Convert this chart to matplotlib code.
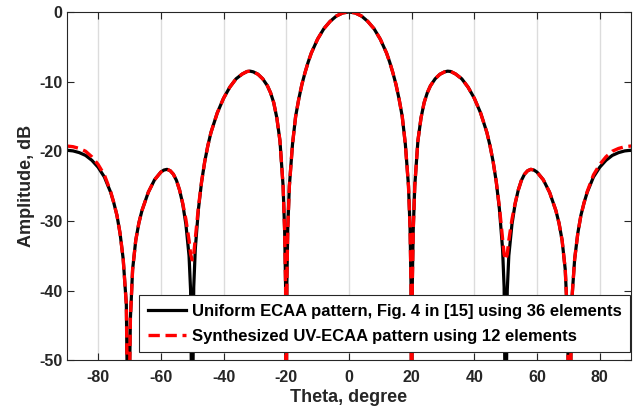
import numpy as np
import matplotlib
matplotlib.use('Agg')
import matplotlib.pyplot as plt

theta = [-90, -88, -86, -84, -82, -80, -78, -76, -75, -74, -73, -72, -71, -70.4, -69.7,
         -69, -68, -67, -66, -64, -62, -60, -59, -58, -57, -56, -55, -54, -53, -52,
         -51, -50.5, -50, -49.5, -49, -48, -47, -46, -45, -44, -42, -40, -38, -36,
         -34, -32.5, -31.5, -30.5, -29, -27.5, -26, -25, -24, -23, -22, -21, -20.5,
         -20.2, -20, -19.8, -19.5, -19, -18, -17, -16, -15, -14, -13, -12, -10, -8,
         -6, -4, -2, 0, 2, 4, 6, 8, 10, 12, 13, 14, 15, 16, 17, 18, 19, 19.5, 19.8,
         20, 20.2, 20.5, 21, 22, 23, 24, 25, 26, 27.5, 29, 30.5, 31.5, 32.5, 34, 36,
         38, 40, 42, 44, 45, 46, 47, 48, 49, 49.5, 50, 50.5, 51, 52, 53, 54, 55, 56,
         57, 58, 59, 60, 62, 64, 66, 67, 68, 69, 69.7, 70.4, 71, 72, 73, 74, 75, 76,
         78, 80, 82, 84, 86, 88, 90]

# Uniform ECAA pattern, 36 elements (dB)
uniform_db = [-19.85, -19.95, -20.2, -20.6, -21.3, -22.3, -23.7, -25.9, -27.4, -29.2,
              -31.8, -35.5, -42, -65, -44, -37.0, -32.8, -30.3, -28.5, -25.9, -24.1,
              -23.0, -22.7, -22.6, -22.8, -23.3, -24.2, -25.6, -27.6, -30.5, -35,
              -40, -65, -39.5, -34.0, -28.3, -24.4, -21.5, -19.2, -17.3, -14.5, -12.4,
              -10.8, -9.6, -8.9, -8.55, -8.5, -8.6, -8.95, -9.6, -10.6, -11.6, -13.0,
              -15.2, -18.5, -25.0, -31.5, -39.5, -65, -39.0, -31.0, -25.0, -19.0,
              -15.0, -12.5, -10.4, -8.7, -7.2, -5.9, -3.9, -2.4, -1.35, -0.58, -0.14,
              0, -0.14, -0.58, -1.35, -2.4, -3.9, -5.9, -7.2, -8.7, -10.4, -12.5,
              -15.0, -19.0, -25.0, -31.0, -39.0, -65, -39.5, -31.5, -25.0, -18.5,
              -15.2, -13.0, -11.6, -10.6, -9.6, -8.95, -8.6, -8.5, -8.55, -8.9, -9.6,
              -10.8, -12.4, -14.5, -17.3, -19.2, -21.5, -24.4, -28.3, -34.0, -39.5,
              -65, -40, -35, -30.5, -27.6, -25.6, -24.2, -23.3, -22.8, -22.6, -22.7,
              -23.0, -24.1, -25.9, -28.5, -30.3, -32.8, -37.0, -44, -65, -42, -35.5,
              -31.8, -29.2, -27.4, -25.9, -23.7, -22.3, -21.3, -20.6, -20.2, -19.95,
              -19.85]

# Synthesized UV-ECAA pattern, 12 elements (dB)
synth_db = [-19.25, -19.35, -19.6, -20.0, -20.8, -21.9, -23.4, -25.8, -27.4, -29.2,
            -31.8, -35.5, -42, -65, -44, -37.0, -32.8, -30.3, -28.5, -25.9, -24.1,
            -23.0, -22.7, -22.6, -22.8, -23.3, -24.2, -25.6, -27.5, -29.8, -32.8,
            -34.8, -35.6, -34.8, -32.5, -28.0, -24.4, -21.5, -19.2, -17.3, -14.5,
            -12.4, -10.8, -9.6, -8.9, -8.55, -8.5, -8.6, -8.95, -9.6, -10.6, -11.6,
            -13.0, -15.2, -18.5, -25.0, -31.5, -39.5, -65, -39.0, -31.0, -25.0,
            -19.0, -15.0, -12.5, -10.4, -8.7, -7.2, -5.9, -3.9, -2.4, -1.35, -0.58,
            -0.14, 0, -0.14, -0.58, -1.35, -2.4, -3.9, -5.9, -7.2, -8.7, -10.4,
            -12.5, -15.0, -19.0, -25.0, -31.0, -39.0, -65, -39.5, -31.5, -25.0,
            -18.5, -15.2, -13.0, -11.6, -10.6, -9.6, -8.95, -8.6, -8.5, -8.55, -8.9,
            -9.6, -10.8, -12.4, -14.5, -17.3, -19.2, -21.5, -24.4, -28.0, -32.5,
            -34.8, -35.6, -34.8, -32.8, -29.8, -27.5, -25.6, -24.2, -23.3, -22.8,
            -22.6, -22.7, -23.0, -24.1, -25.9, -28.5, -30.3, -32.8, -37.0, -44, -65,
            -42, -35.5, -31.8, -29.2, -27.4, -25.8, -23.4, -21.9, -20.8, -20.0,
            -19.6, -19.35, -19.25]

labels = ['Uniform ECAA pattern, Fig. 4 in [15] using 36 elements',
          'Synthesized UV-ECAA pattern using 12 elements']

plt.rcParams['font.family'] = ['Liberation Sans', 'DejaVu Sans']
plt.rcParams['font.weight'] = 'bold'
plt.rcParams['axes.unicode_minus'] = False

fig = plt.figure(figsize=(6.42, 4.13), dpi=100)
ax = fig.add_axes([0.104, 0.128, 0.879, 0.843])

ax.plot(theta, uniform_db, color='black', lw=2.3, label=labels[0])
ax.plot(theta, synth_db, color='red', lw=2.4, dashes=(3.4, 1.7), label=labels[1])

ax.set_xlim(-90, 90)
ax.set_ylim(-50, 0)
ax.set_xticks(np.arange(-80, 81, 20))
ax.set_yticks(np.arange(-50, 1, 10))
ax.grid(axis='x', color='#dcdcdc', lw=1.0)
ax.set_axisbelow(True)

gray = '#262626'
for s in ax.spines.values():
    s.set_color(gray)
    s.set_linewidth(0.8)
ax.tick_params(direction='in', length=5, width=0.8, color=gray, labelcolor=gray,
               labelsize=11.5, top=True, right=True)
ax.tick_params(axis='x', pad=7)
ax.tick_params(axis='y', pad=3)
for t in ax.get_xticklabels() + ax.get_yticklabels():
    t.set_fontweight('bold')

ax.set_xlabel('Theta, degree', fontsize=13, fontweight='bold', color=gray, labelpad=3)
ax.set_ylabel('Amplitude, dB', fontsize=13, fontweight='bold', color=gray, labelpad=3)

leg = ax.legend(loc='lower right', bbox_to_anchor=(0.998, 0.023),
                prop={'weight': 'bold', 'size': 12}, fancybox=False, framealpha=1,
                edgecolor=gray, handlelength=2.3, labelspacing=0.6, borderpad=0.5,
                handletextpad=0.35, borderaxespad=0)
leg.get_frame().set_linewidth(0.8)

fig.savefig('out.png', dpi=100)
